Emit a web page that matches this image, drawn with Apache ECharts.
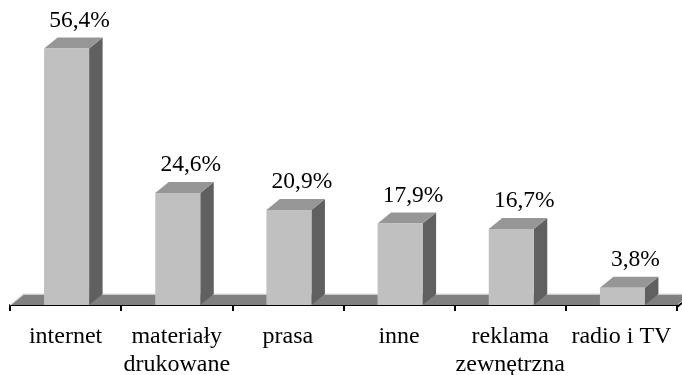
<!DOCTYPE html>
<html><head><meta charset="utf-8">
<script src="https://cdn.jsdelivr.net/npm/echarts@6/dist/echarts.min.js"></script>
<style>html,body{margin:0;padding:0;background:#fff}#chart{width:682px;height:375px}</style>
</head><body><div id="chart"></div>
<script>
// Media channels and their share (%)
const categories = ['internet', 'materiały\ndrukowane', 'prasa', 'inne', 'reklama\nzewnętrzna', 'radio i TV'];
const shares = [56.4, 24.6, 20.9, 17.9, 16.7, 3.8];
const valueLabels = ['56,4%', '24,6%', '20,9%', '17,9%', '16,7%', '3,8%'];

// Pseudo-3D depth of bars and floor
const DX = 13.5, DY = 11;
const FONT = '"Liberation Serif", "Times New Roman", serif';

function renderBar(params, api) {
  const i = api.value(0), v = api.value(1);
  const top = api.coord([i, v]);
  const base = api.coord([i, 0]);
  const w = api.size([1, 0])[0] * 0.405;
  const x0 = top[0] - w / 2 + 1, x1 = x0 + w;
  const yT = top[1], yB = base[1];
  return {
    type: 'group',
    children: [
      { type: 'polygon', shape: { points: [[x1, yT], [x1 + DX, yT - DY], [x1 + DX, yB - DY], [x1, yB]] }, style: { fill: '#606060' } },
      { type: 'polygon', shape: { points: [[x0, yT], [x0 + DX, yT - DY], [x1 + DX, yT - DY], [x1, yT]] }, style: { fill: '#969696' } },
      { type: 'rect', shape: { x: x0, y: yT, width: w, height: yB - yT }, style: { fill: '#c0c0c0' } },
      { type: 'text', x: (x0 + x1) / 2 + 13, y: yT - DY - 5,
        style: { text: valueLabels[params.dataIndex], font: '23.5px ' + FONT, fill: '#000', align: 'center', verticalAlign: 'bottom' } }
    ]
  };
}

function renderFloor(params, api) {
  const cs = params.coordSys;
  const xl = cs.x, xr = cs.x + cs.width, yf = cs.y + cs.height, yb = yf - DY;
  return {
    type: 'group',
    children: [
      { type: 'polygon', shape: { points: [[xl, yf], [xl + DX, yb], [xr + DX, yb], [xr, yf]] }, style: { fill: '#808080' } },
      { type: 'polyline', shape: { points: [[xl, yf], [xl + DX, yb], [xr + DX, yb]] }, style: { stroke: '#e4e4e4', lineWidth: 1.5, fill: null } },
      { type: 'line', shape: { x1: xr, y1: yf + 2, x2: xr + DX, y2: yb + 2 }, style: { stroke: '#000', lineWidth: 2 } }
    ]
  };
}

const chart = echarts.init(document.getElementById('chart'), null, { renderer: 'canvas' });
chart.setOption({
  animation: false,
  grid: { left: 10, right: 5, top: 32, bottom: 70, containLabel: false, outerBoundsMode: 'none' },
  xAxis: {
    type: 'category',
    data: categories,
    offset: 2,
    axisLine: { show: true, lineStyle: { color: '#000', width: 2 } },
    axisTick: { show: true, alignWithLabel: false, interval: 0, length: 6, lineStyle: { color: '#000', width: 2 } },
    axisLabel: { interval: 0, margin: 15, color: '#000', fontFamily: FONT, fontSize: 24, lineHeight: 28.5, hideOverlap: false },
    nameTruncate: {}
  },
  yAxis: { type: 'value', min: 0, max: 60, show: false, splitLine: { show: false } },
  series: [
    { type: 'custom', renderItem: renderFloor, data: [[0, 0]], z: 1, silent: true, clip: false },
    { type: 'custom', renderItem: renderBar, data: shares.map((v, i) => [i, v]), z: 2, clip: false }
  ]
});
</script>
</body></html>
